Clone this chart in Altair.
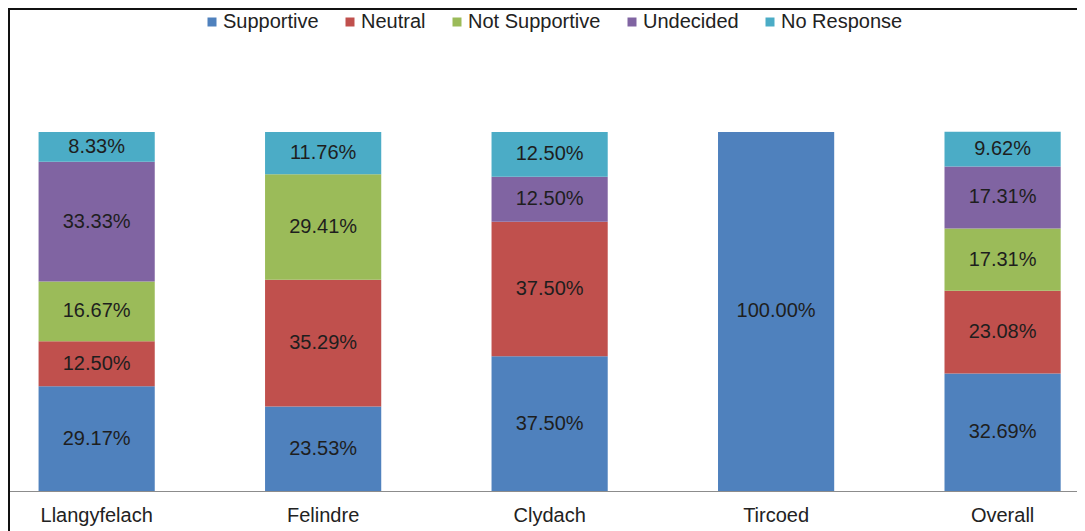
import altair as alt
import pandas as pd

sites = ["Llangyfelach", "Felindre", "Clydach", "Tircoed", "Overall"]
responses = ["Supportive", "Neutral", "Not Supportive", "Undecided", "No Response"]
colors = ["#4F81BD", "#C0504D", "#9BBB59", "#8064A2", "#4BACC6"]

supportive = [29.17, 23.53, 37.50, 100.00, 32.69]
neutral = [12.50, 35.29, 37.50, 0.0, 23.08]
not_supportive = [16.67, 29.41, 0.0, 0.0, 17.31]
undecided = [33.33, 0.0, 12.50, 0.0, 17.31]
no_response = [8.33, 11.76, 12.50, 0.0, 9.62]

series = [supportive, neutral, not_supportive, undecided, no_response]
rows = []
for ri, (resp, vals) in enumerate(zip(responses, series)):
    for site, v in zip(sites, vals):
        rows.append({"site": site, "response": resp, "idx": ri, "value": v})
df = pd.DataFrame(rows)

FONT = "Liberation Sans, Arial, sans-serif"
W, H = 1069, 483

base = alt.Chart(df).transform_filter("datum.value > 0").transform_stack(
    stack="value", groupby=["site"], sort=[alt.SortField("idx", order="ascending")],
    as_=["y0", "y1"]
).transform_calculate(
    mid="(datum.y0 + datum.y1) / 2",
    label="format(datum.value, '.2f') + '%'"
)

xenc = alt.X("site:N", sort=sites, title=None,
             scale=alt.Scale(paddingInner=0.487, paddingOuter=0.1035, align=0.652),
             axis=alt.Axis(labelAngle=0, ticks=False, domainColor="#8c8c8c", domainWidth=1,
                           labelFontSize=20, labelColor="#222222", labelPadding=14,
                           labelFont=FONT, grid=False))
yscale = alt.Scale(domain=[0, 134.5], nice=False, zero=False)

bars = base.mark_bar().encode(
    x=xenc,
    y=alt.Y("y0:Q", scale=yscale, axis=None),
    y2="y1:Q",
    color=alt.Color("response:N", sort=responses,
                    scale=alt.Scale(domain=responses, range=colors),
                    legend=alt.Legend(orient="none", legendX=194, legendY=4, direction="horizontal",
                                      title=None, symbolType="square", symbolSize=81,
                                      symbolStrokeWidth=0, labelFontSize=20, labelFont=FONT,
                                      labelColor="#222222", labelOffset=1, columnPadding=21,
                                      padding=0)),
)

labels = base.mark_text(fontSize=20, font=FONT, color="#1e1e1e").encode(
    x=alt.X("site:N", sort=sites),
    y=alt.Y("mid:Q", scale=yscale),
    text="label:N",
)

frame_left = alt.Chart(df).mark_rule(color="#111111", strokeWidth=2).encode(
    x=alt.value(0.5), y=alt.value(0), y2=alt.value(530)
)
frame_top = alt.Chart(df).mark_rule(color="#111111", strokeWidth=2).encode(
    x=alt.value(0), x2=alt.value(W), y=alt.value(1)
)

chart = alt.layer(bars, labels, frame_left, frame_top).properties(
    width=W, height=H,
    autosize=alt.AutoSizeParams(type="none"),
    padding={"left": 0, "top": 0, "right": 0, "bottom": 40},
).configure_view(stroke=None)

chart.save("out.html", embed_options={"renderer": "svg", "actions": False})
